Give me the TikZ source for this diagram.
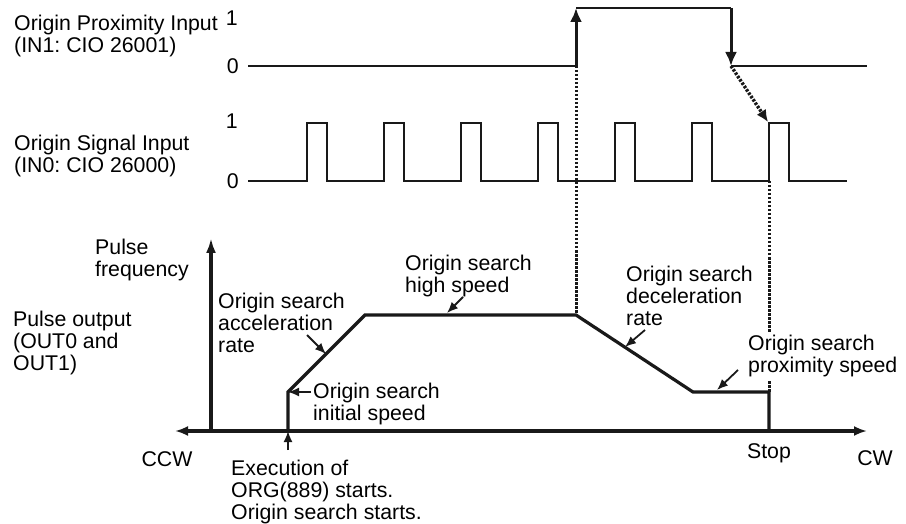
\documentclass[tikz,border=0pt]{standalone}
\usepackage{fontspec}
\setmainfont{Liberation Sans}
\usetikzlibrary{arrows.meta,positioning}
\definecolor{lineblack}{RGB}{25,25,25}
\tikzset{
  lbl/.style={inner sep=0pt, align=left, anchor=north west},
  lvl/.style={inner sep=0pt, anchor=east},
  sig/.style={draw=lineblack, line width=1.8pt, line join=miter},
  stepline/.style={draw=lineblack, line width=3pt, -{Latex[length=14pt,width=12pt]}},
  speedline/.style={draw=lineblack, line width=3.2pt, line join=miter},
  axisline/.style={draw=lineblack, line width=3.2pt},
  guide/.style={draw=lineblack, line width=3pt, dash pattern=on 2.5pt off 1.5pt},
  ptr/.style={draw=lineblack, line width=1.8pt, -{Latex[length=11pt,width=9pt]}},
}
\frenchspacing
\begin{document}
\begin{tikzpicture}[x=1pt, y=-1pt, font=\fontsize{21.3}{22}\selectfont]
\useasboundingbox (0,0) rectangle (906,524);

% origin proximity input
\coordinate (prxA) at (248,66);
\coordinate (prxUp) at (576,66);
\coordinate (prxHi) at (576,8);
\coordinate (prxDn) at (731,8);
\coordinate (prxLo) at (731,66);
\coordinate (prxB) at (867,66);
\node[lbl] (prxlbl) at (14,15) {Origin Proximity Input\\(IN1: CIO 26001)};
\node[lvl, left=9pt of prxA] (prx0) {0};
\node[lvl] (prx1) at (238,18) {1};
\draw[sig] (prxA) -- (prxUp);
\draw[stepline] (prxUp) -- (prxHi);
\draw[sig, line width=2.4pt] (prxHi) -- (prxDn);
\draw[stepline] (prxDn) -- (prxLo);
\draw[sig] (prxLo) -- (prxB);

% origin signal input
\coordinate (sigA) at (248,181);
\coordinate (sigB) at (847,181);
\coordinate (sigHit) at (768,122);
\node[lbl] (siglbl) at (14,135) {Origin Signal Input\\(IN0: CIO 26000)};
\node[lvl, left=9pt of sigA] (sig0) {0};
\node[lvl] (sig1) at (238,121) {1};
\draw[sig] (sigA) foreach \x in {307,384,...,769} { -- (\x,181) -- (\x,123) -- (\x+20,123) -- (\x+20,181) } -- (sigB);

% pulse output
\coordinate (axO) at (211,431);
\coordinate (axTop) at (211,238);
\coordinate (axL) at (175,431);
\coordinate (axR) at (867,431);
\coordinate (orgStart) at (288,431);
\coordinate (initSpd) at (288,392);
\coordinate (hsStart) at (365,315);
\coordinate (hsEnd) at (576,315);
\coordinate (psStart) at (693,392);
\coordinate (psEnd) at (769,392);
\coordinate (stopPt) at (769,431);
\coordinate (stopSig) at (769,181);

\draw[guide] (prxUp) -- (hsEnd);
\draw[guide] (stopSig) -- (psEnd);
\draw[guide, line width=3.4pt, -{Latex[length=12pt,width=11pt]}] (prxLo) -- (sigHit);

\draw[axisline, -{Latex[length=15pt,width=10pt]}] (axO) -- (axTop);
\draw[axisline, {Latex[length=13pt,width=10pt]}-{Latex[length=13pt,width=10pt]}] (axL) -- (axR);
\draw[speedline] (orgStart) -- (initSpd) -- (hsStart) -- (hsEnd) -- (psStart) -- (psEnd) -- (stopPt);

\node[lbl] (freqlbl) at (95,239) {Pulse\\frequency};
\node[lbl] (outlbl) at (13,311) {Pulse output\\(OUT0 and\\OUT1)};
\node[lbl] (acclbl) at (218,293) {Origin search\\acceleration\\rate};
\node[lbl] (initlbl) at (313,383) {Origin search\\initial speed};
\node[lbl] (hslbl) at (405,255) {Origin search\\high speed};
\node[lbl] (declbl) at (626,266) {Origin search\\deceleration\\rate};
\node[lbl, fill=white, inner sep=3pt] (pslbl) at (745,332) {Origin search\\proximity speed};
\node[lbl] (execlbl) at (231,460) {Execution of\\ORG(889) starts.\\Origin search starts.};
\node[anchor=north, inner sep=0pt] (ccwlbl) at (167,451) {CCW};
\node[anchor=north, inner sep=0pt, below=12pt of stopPt] (stoplbl) {Stop};
\node[anchor=north, inner sep=0pt] (cwlbl) at (875,450) {CW};

% pointers
\coordinate (accTail) at (307,335);
\coordinate (accTip) at (326,354);
\coordinate (initTail) at (311,392);
\coordinate (hsTail) at (463,297);
\coordinate (hsTip) at (447,313);
\coordinate (decTail) at (645,330);
\coordinate (decTip) at (625,347);
\coordinate (psTail) at (738,370);
\coordinate (psTip) at (717,390);
\coordinate (execTail) at (288,450);
\draw[ptr] (accTail) -- (accTip);
\draw[ptr] (initTail) -- (initSpd);
\draw[ptr] (hsTail) -- (hsTip);
\draw[ptr] (decTail) -- (decTip);
\draw[ptr] (psTail) -- (psTip);
\draw[ptr] (execTail) -- (orgStart);
\end{tikzpicture}
\end{document}
